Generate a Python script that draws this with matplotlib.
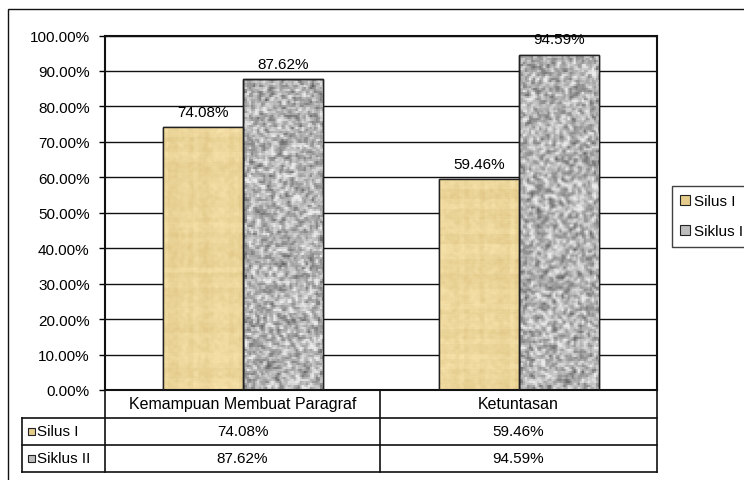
import numpy as np
import matplotlib.pyplot as plt
from matplotlib.patches import Rectangle, Patch
from matplotlib.ticker import FuncFormatter

plt.rcParams["font.family"] = ["Liberation Sans", "DejaVu Sans"]
plt.rcParams["font.size"] = 11

categories = ["Kemampuan Membuat Paragraf", "Ketuntasan"]
series_names = ["Silus I", "Siklus II"]
silus_1 = [74.08, 59.46]
siklus_2 = [87.62, 94.59]
yticks = np.arange(0, 101, 10)

W, H = 744, 481
fig = plt.figure(figsize=(W / 100, H / 100), dpi=100)

# layout in pixels (left, right, top of plot, bottom of plot, table rows)
px_left, px_right = 105, 657
px_top, px_bottom = 36.5, 391
table_left = 22
row_edges = [391, 419, 446, 473]


def fx(x):
    return x / W


def fy(y):
    return 1 - y / H


ax = fig.add_axes([fx(px_left), fy(px_bottom), fx(px_right - px_left),
                   (px_bottom - px_top) / H])

rng = np.random.default_rng(7)


def smooth(a, k):
    ker = np.ones(k) / k
    a = np.apply_along_axis(lambda r: np.convolve(r, ker, mode="same"), 0, a)
    a = np.apply_along_axis(lambda r: np.convolve(r, ker, mode="same"), 1, a)
    return a


def granite(h, w):
    # speckled stone: blotchy mid grey with darker flecks
    n = smooth(rng.random((h // 2 + 2, w // 2 + 2)), 2)
    n = (n - n.mean()) / n.std()
    g = np.clip(0.70 + 0.11 * n, 0.30, 0.92)
    g = np.repeat(np.repeat(g, 2, axis=0), 2, axis=1)[:h, :w]
    return np.dstack([g, g, g])


def paper(h, w):
    # parchment: warm tan with faint fibres
    n = smooth(rng.random((h, w)), 4)
    n = (n - n.mean()) / n.std()
    rows = np.repeat(smooth(rng.random((h // 5 + 1, 1)), 1), 5, axis=0)[:h] - 0.5
    cols = np.repeat(rng.random((1, w // 5 + 1)), 5, axis=1)[:, :w] - 0.5
    base = np.array([0.925, 0.835, 0.60])
    shade = 0.012 * n + 0.04 * rows + 0.03 * cols
    img = base[None, None, :] + shade[:, :, None] * np.array([0.8, 1.0, 1.3])
    return np.clip(img, 0, 1)


x = np.arange(len(categories))
bw = 0.29
specs = [(silus_1, -bw / 2, paper, "#e9cf92"), (siklus_2, bw / 2, granite, "#b4b4b4")]
for vals, off, tex, base in specs:
    bars = ax.bar(x + off, vals, bw, color=base, edgecolor="black", lw=1, zorder=2)
    for b, v in zip(bars, vals):
        hpx = max(int(v * 3.55), 4)
        im = ax.imshow(tex(hpx, 80), extent=[b.get_x(), b.get_x() + bw, 0, v],
                       aspect="auto", interpolation="bilinear", zorder=2.5)
        im.set_clip_path(b)
        ax.bar(b.get_x() + bw / 2, v, bw, facecolor="none", edgecolor="#222222",
               lw=1, zorder=3)
        ax.annotate(f"{v:.2f}%", (b.get_x() + bw / 2, v), xytext=(0, 6),
                    textcoords="offset points", ha="center", va="bottom",
                    zorder=4)

ax.set_xlim(-0.5, 1.5)
ax.set_ylim(0, 100)
ax.set_yticks(yticks)
ax.yaxis.set_major_formatter(FuncFormatter(lambda v, p: f"{v:.2f}%"))
ax.tick_params(axis="y", direction="out", length=4, width=1, pad=7)
ax.set_xticks([])
ax.grid(axis="y", color="#111111", lw=1)
ax.set_axisbelow(True)
for s in ax.spines.values():
    s.set_color("#111111")
    s.set_linewidth(1.5)

# data table under the plot
tab = fig.add_axes([0, 0, 1, 1], facecolor="none")
tab.set_xlim(0, W)
tab.set_ylim(H, 0)
tab.axis("off")
lk = dict(color="#111111", lw=1.2)
col_edges = [px_left, (px_left + px_right) / 2 - 1, px_right]
for y in row_edges[1:]:
    tab.plot([table_left, px_right], [y, y], **lk)
tab.plot([table_left, table_left], [row_edges[1], row_edges[-1]], **lk)
for cx in col_edges:
    tab.plot([cx, cx], [row_edges[0], row_edges[-1]], **lk)

for i, cat in enumerate(categories):
    cxm = (col_edges[i] + col_edges[i + 1]) / 2
    tab.text(cxm, (row_edges[0] + row_edges[1]) / 2, cat, ha="center", va="center",
             fontsize=11.5)
    for r, vals in enumerate([silus_1, siklus_2]):
        tab.text(cxm, (row_edges[r + 1] + row_edges[r + 2]) / 2, f"{vals[i]:.2f}%",
                 ha="center", va="center")

key_colors = ["#e6cc8c", "#bdbdbd"]
for r, (name, kc) in enumerate(zip(series_names, key_colors)):
    ym = (row_edges[r + 1] + row_edges[r + 2]) / 2
    tab.add_patch(Rectangle((28, ym - 3.5), 7, 7, fc=kc, ec="#222222", lw=0.8))
    tab.text(37, ym, name, ha="left", va="center")

# legend to the right, running off the edge
handles = [Patch(fc=kc, ec="#222222", lw=0.8) for kc in key_colors]
fig.legend(handles, series_names, loc="upper left",
           bbox_to_anchor=(fx(672), fy(187)), frameon=True, fancybox=False,
           edgecolor="#111111", handlelength=0.6, handleheight=0.6,
           handletextpad=0.3, labelspacing=1.05, borderpad=0.55,
           borderaxespad=0)

# chart border
fig.patches.append(Rectangle((fx(8), -0.1), 1.2, fy(10) + 0.1,
                             transform=fig.transFigure, fill=False,
                             ec="#111111", lw=1))

fig.savefig("out.png", dpi=100)
